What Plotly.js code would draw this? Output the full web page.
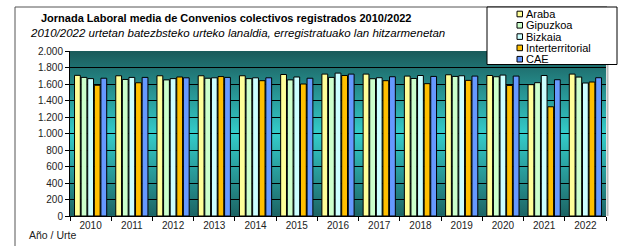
<!DOCTYPE html>
<html>
<head>
<meta charset="utf-8">
<script src="https://cdn.plot.ly/plotly-3.0.1.min.js"></script>
<style>html,body{margin:0;padding:0;background:#fff;}#chart{width:619px;height:246px;}</style>
</head>
<body>
<div id="chart"></div>
<script>
const years = ['2010','2011','2012','2013','2014','2015','2016','2017','2018','2019','2020','2021','2022'];
const seriesNames = ['Araba','Gipuzkoa','Bizkaia','Interterritorial','CAE'];
const araba =    [1705,1700,1700,1700,1700,1715,1720,1720,1696,1712,1703,1592,1720];
const gipuzkoa = [1680,1655,1650,1670,1665,1650,1680,1664,1667,1692,1688,1616,1684];
const bizkaia =  [1665,1680,1665,1675,1675,1685,1732,1676,1703,1700,1708,1703,1612];
const interterritorial = [1585,1615,1685,1690,1640,1600,1703,1640,1604,1644,1583,1324,1624];
const cae =      [1670,1680,1675,1680,1675,1670,1720,1688,1692,1696,1696,1652,1676];
const yTicks = [0,200,400,600,800,1000,1200,1400,1600,1800,2000];

const seriesValues = [araba, gipuzkoa, bizkaia, interterritorial, cae];
const colors = ['#FFFF99','#CCFFCC','#CCFFFF','#FFC000','#6699FF'];

const W = 619, H = 246, L = 70, R = 13, T = 51, B = 30;
const pw = W - L - R, ph = H - T - B;
const px = x => (x - L) / pw;
const py = y => (H - B - y) / ph;

const traces = seriesNames.map((n, i) => ({
  type: 'bar', name: n, x: years, y: seriesValues[i],
  marker: {color: colors[i], line: {color: '#000', width: 1}},
  hoverinfo: 'x+y+name'
}));

const gradSvg = '<svg xmlns="http://www.w3.org/2000/svg" width="100" height="100" preserveAspectRatio="none">' +
  '<defs><linearGradient id="g" x1="0" y1="0" x2="0" y2="1">' +
  '<stop offset="0" stop-color="#1A5A5A"/><stop offset="0.5" stop-color="#34CCCA"/><stop offset="1" stop-color="#1C6464"/>' +
  '</linearGradient></defs><rect width="100" height="100" fill="url(#g)"/></svg>';
const gradUri = 'data:image/svg+xml;base64,' + btoa(gradSvg);

const shapes = [];
// frame
shapes.push({type: 'line', xref: 'paper', yref: 'paper', x0: px(15), x1: px(15), y0: py(7), y1: py(260), line: {color: '#555', width: 1}});
shapes.push({type: 'line', xref: 'paper', yref: 'paper', x0: px(15), x1: px(607), y0: py(7), y1: py(7), line: {color: '#555', width: 1}});
shapes.push({type: 'line', xref: 'paper', yref: 'paper', x0: px(607.5), x1: px(607.5), y0: py(64), y1: py(216), line: {color: '#bbb', width: 2}});

const annotations = [
  {text: '<b>Jornada Laboral media de Convenios colectivos registrados 2010/2022</b>', xref: 'paper', yref: 'paper',
   x: px(226), y: py(18), xanchor: 'center', yanchor: 'middle', showarrow: false,
   font: {family: 'Liberation Sans, Arial, sans-serif', size: 11, color: '#000'}},
  {text: '<i>2010/2022 urtetan batezbsteko urteko lanaldia, erregistratuako lan hitzarmenetan</i>', xref: 'paper', yref: 'paper',
   x: px(28), y: py(33), xanchor: 'left', yanchor: 'middle', showarrow: false,
   font: {family: 'Liberation Sans, Arial, sans-serif', size: 11.5, color: '#000'}},
  {text: 'Año / Urte', xref: 'paper', yref: 'paper', x: px(27), y: py(235), xanchor: 'left', yanchor: 'middle',
   showarrow: false, font: {family: 'Liberation Sans, Arial, sans-serif', size: 10.5, color: '#222'}}
];

// custom legend
shapes.push({type: 'rect', xref: 'paper', yref: 'paper', x0: px(487), x1: px(617), y0: py(7), y1: py(64.5),
  fillcolor: '#fff', line: {color: '#000', width: 1}, layer: 'above'});
seriesNames.forEach((n, i) => {
  const cy = 14 + i * 11.3;
  shapes.push({type: 'rect', xref: 'paper', yref: 'paper', x0: px(517), x1: px(522.5), y0: py(cy - 2.8), y1: py(cy + 2.8),
    fillcolor: colors[i], line: {color: '#000', width: 1}, layer: 'above'});
  annotations.push({text: n, xref: 'paper', yref: 'paper', x: px(524), y: py(cy), xanchor: 'left', yanchor: 'middle',
    showarrow: false, font: {family: 'Liberation Sans, Arial, sans-serif', size: 11, color: '#000'}});
});

const layout = {
  width: W, height: H,
  margin: {l: L, r: R, t: T, b: B, pad: 0},
  paper_bgcolor: '#fff', plot_bgcolor: 'rgba(0,0,0,0)',
  showlegend: false,
  barmode: 'group', bargap: 0.2, bargroupgap: 0.12,
  separators: ',.',
  font: {family: 'Liberation Sans, Arial, sans-serif', size: 10, color: '#222'},
  xaxis: {type: 'category', tickson: 'boundaries', ticks: 'outside', ticklen: 4, tickcolor: '#000',
    showline: true, linecolor: '#000', linewidth: 1, showgrid: false, tickfont: {size: 10, color: '#222'}},
  yaxis: {range: [0, 2000], tickvals: yTicks, ticks: 'outside', ticklen: 4, tickcolor: '#000', separatethousands: true,
    tickformat: ',d', showline: true, linecolor: '#000', linewidth: 1, gridcolor: '#000', gridwidth: 1, zeroline: false,
    tickfont: {size: 10, color: '#222'}},
  images: [{source: gradUri, xref: 'x domain', yref: 'y domain', x: 0, y: 1, sizex: 1, sizey: 1,
    xanchor: 'left', yanchor: 'top', sizing: 'stretch', layer: 'below'}],
  shapes: shapes,
  annotations: annotations
};

Plotly.newPlot('chart', traces, layout, {displayModeBar: false, staticPlot: true});
</script>
</body>
</html>
